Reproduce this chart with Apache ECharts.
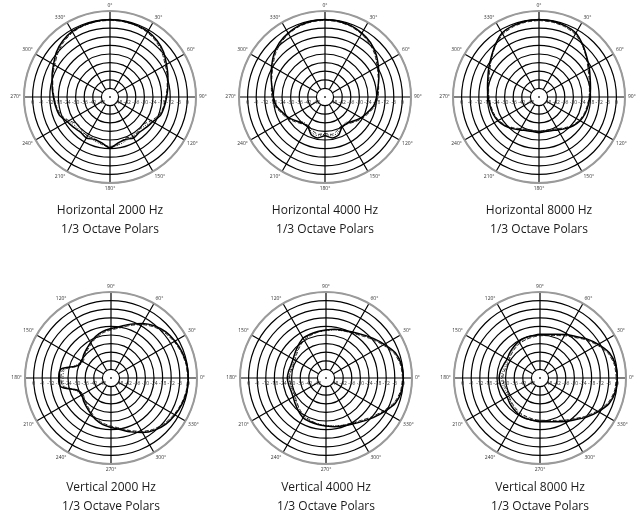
<!DOCTYPE html>
<html>
<head>
<meta charset="utf-8">
<script src="https://cdn.jsdelivr.net/npm/echarts@6/dist/echarts.min.js"></script>
<style>
html,body{margin:0;padding:0;background:#fff;}
#main{width:640px;height:517px;}
</style>
</head>
<body>
<div id="main"></div>
<script>
// ---------- data ----------
const angles = [0,10,20,30,40,50,60,70,80,90,100,110,120,130,140,150,160,170,180,190,200,210,220,230,240,250,260,270,280,290,300,310,320,330,340,350,360];
const dbTicks = [0,-6,-12,-18,-24,-30,-36,-42,-48];
const angleTicks = [0,30,60,90,120,150,180,210,240,270,300,330];

const titles = [
  "Horizontal 2000 Hz\n1/3 Octave Polars",
  "Horizontal 4000 Hz\n1/3 Octave Polars",
  "Horizontal 8000 Hz\n1/3 Octave Polars",
  "Vertical 2000 Hz\n1/3 Octave Polars",
  "Vertical 4000 Hz\n1/3 Octave Polars",
  "Vertical 8000 Hz\n1/3 Octave Polars"
];

const h2000Solid  = [0,-0.3,-0.6,-1.2,-2.8,-5.2,-8.5,-11,-13,-14.5,-15.5,-16.5,-19.5,-21,-22,-21,-22.5,-21.5,-18.5,-21.5,-22.5,-21,-22,-21,-19.5,-16.5,-15.5,-14.5,-13,-11,-8.5,-5.2,-2.8,-1.2,-0.6,-0.3,0];
const h2000Dashed = [-0.5,-0.6,-1,-2,-3.8,-6.5,-9.5,-11.5,-13.5,-15,-16,-17.5,-21,-24,-23,-22,-23.5,-20.5,-19.5,-20.5,-23,-22.5,-23.5,-24.5,-21,-17.5,-16,-15,-13.5,-11.5,-9.5,-6.5,-3.8,-2,-1,-0.6,-0.5];
const h2000Dotted = [-0.2,-0.4,-0.9,-1.6,-3.2,-5.8,-9,-11.2,-13.2,-14.8,-16,-17,-20,-22.5,-23.5,-22.5,-21.5,-20,-19,-20.5,-21.5,-23,-22.5,-22.5,-20.5,-17,-16,-14.8,-13.2,-11.2,-9,-5.8,-3.2,-1.6,-0.9,-0.4,-0.2];

const h4000Solid  = [0,-0.3,-1,-2.5,-4.5,-7.5,-11,-14,-16.5,-18,-19.5,-22.5,-25,-28,-30,-30,-26,-25,-27,-25,-26,-30,-30,-28,-25,-22.5,-19.5,-18,-16.5,-14,-11,-7.5,-4.5,-2.5,-1,-0.3,0];
const h4000Dashed = [-0.4,-0.8,-1.6,-3.2,-5.5,-8.5,-12,-14.5,-16,-17,-18.5,-21.5,-24,-27,-29.5,-31,-29,-27.5,-28.5,-27.5,-29,-31,-29.5,-27,-24,-21.5,-18.5,-17,-16,-14.5,-12,-8.5,-5.5,-3.2,-1.6,-0.8,-0.4];
const h4000Dotted = [-0.2,-0.5,-1.3,-2.9,-5,-8,-11.5,-14.3,-16.3,-17.5,-19,-22,-24.5,-27.5,-31,-30.5,-27.5,-26.5,-28,-26.5,-27.5,-30.5,-31,-27.5,-24.5,-22,-19,-17.5,-16.3,-14.3,-11.5,-8,-5,-2.9,-1.3,-0.5,-0.2];

const h8000Solid  = [0,-0.3,-1,-2.5,-6.5,-10.5,-13.5,-16,-17.5,-18.5,-19.2,-19.8,-20.8,-22.8,-25.2,-27.5,-29,-29.5,-29,-29.5,-29,-27.5,-25.2,-22.8,-20.8,-19.8,-19.2,-18.5,-17.5,-16,-13.5,-10.5,-6.5,-2.5,-1,-0.3,0];
const h8000Dashed = [-0.6,-1,-1.8,-3.5,-7,-11,-14.5,-16.8,-18.3,-19,-19.8,-20.5,-21.5,-23.5,-26,-28.5,-29.8,-30.5,-30,-30.5,-29.8,-28.5,-26,-23.5,-21.5,-20.5,-19.8,-19,-18.3,-16.8,-14.5,-11,-7,-3.5,-1.8,-1,-0.6];
const h8000Dotted = [-0.3,-0.6,-1.4,-3,-6.8,-10.8,-14,-16.5,-18,-19,-19.5,-20.2,-21,-23,-25.6,-28,-29.5,-30,-29.5,-30,-29.5,-28,-25.6,-23,-21,-20.2,-19.5,-19,-18,-16.5,-14,-10.8,-6.8,-3,-1.4,-0.6,-0.3];

const v2000Solid  = [0,-0.3,-1.2,-2.5,-4,-6.5,-10,-14,-17.5,-19.5,-21,-23,-25.5,-27.5,-29,-30.5,-29,-18.5,-17.5,-18.5,-29,-30.5,-29,-27.5,-25.5,-23,-21,-19.5,-17.5,-14,-10,-6.5,-4,-2.5,-1.2,-0.3,0];
const v2000Dashed = [-0.5,-0.8,-1.8,-3.2,-5,-7.5,-11,-15,-18.5,-20.5,-22,-24,-26.5,-28.5,-30,-31.5,-29.5,-20,-19,-20,-29.5,-31.5,-30,-28.5,-26.5,-24,-22,-20.5,-18.5,-15,-11,-7.5,-5,-3.2,-1.8,-0.8,-0.5];
const v2000Dotted = [-0.2,-0.6,-1.5,-2.8,-4.5,-7,-10.5,-14.5,-18,-20,-21.5,-23.5,-26,-28,-29.5,-30,-28,-21,-20.5,-21,-28,-30,-29.5,-28,-26,-23.5,-21.5,-20,-18,-14.5,-10.5,-7,-4.5,-2.8,-1.5,-0.6,-0.2];

const v4000Solid  = [0,-0.5,-2.5,-7,-11,-14.5,-17,-18.5,-19.5,-20.5,-21,-21.5,-22,-24,-26,-27.5,-28,-27.5,-27,-27.5,-28,-27.5,-26,-24,-22,-21.5,-21,-20.5,-19.5,-18.5,-17,-14.5,-11,-7,-2.5,-0.5,0];
const v4000Dashed = [-0.6,-1.2,-3.5,-8,-12,-15.5,-17.8,-19,-19.8,-20.5,-21.5,-22.5,-23.5,-25.5,-27.5,-29,-29.5,-29,-28.5,-29,-29.5,-29,-27.5,-25.5,-23.5,-22.5,-21.5,-20.5,-19.8,-19,-17.8,-15.5,-12,-8,-3.5,-1.2,-0.6];
const v4000Dotted = [-0.3,-0.8,-3,-7.5,-11.5,-15,-17.5,-19,-20,-21,-21.5,-22,-23,-25,-27,-28.5,-29,-28.5,-28,-28.5,-29,-28.5,-27,-25,-23,-22,-21.5,-21,-20,-19,-17.5,-15,-11.5,-7.5,-3,-0.8,-0.3];

const v8000Solid  = [0,-0.5,-2.5,-7,-11.5,-16,-19,-21.5,-23,-23.5,-24,-24,-24.5,-25.5,-26.5,-27.5,-27,-26,-25.5,-26,-27,-27.5,-26.5,-25.5,-24.5,-24,-24,-23.5,-23,-21.5,-19,-16,-11.5,-7,-2.5,-0.5,0];
const v8000Dashed = [-0.8,-1.3,-3.5,-8,-12.5,-17,-20,-22.5,-24,-24.5,-25,-25.5,-26,-27,-28,-29,-29.5,-28.5,-28,-28.5,-29.5,-29,-28,-27,-26,-25.5,-25,-24.5,-24,-22.5,-20,-17,-12.5,-8,-3.5,-1.3,-0.8];
const v8000Dotted = [-0.3,-0.8,-3,-7.5,-12,-16.5,-19.5,-22,-23.5,-24,-24.5,-25,-25.5,-26.5,-27.5,-28.5,-28.5,-27.5,-27,-27.5,-28.5,-28.5,-27.5,-26.5,-25.5,-25,-24.5,-24,-23.5,-22,-19.5,-16.5,-12,-7.5,-3,-0.8,-0.3];

// ---------- layout (positions, not data) ----------
const layout = [
  {cx:110, cy:97,  start:90, cw:true,  ty:201},
  {cx:325, cy:97,  start:90, cw:true,  ty:201},
  {cx:539, cy:97,  start:90, cw:true,  ty:201},
  {cx:111, cy:378, start:0,  cw:false, ty:478},
  {cx:326, cy:378, start:0,  cw:false, ty:478},
  {cx:540, cy:378, start:0,  cw:false, ty:478}
];
const seriesSets = [
  [h2000Solid,h2000Dashed,h2000Dotted],
  [h4000Solid,h4000Dashed,h4000Dotted],
  [h8000Solid,h8000Dashed,h8000Dotted],
  [v2000Solid,v2000Dashed,v2000Dotted],
  [v4000Solid,v4000Dashed,v4000Dotted],
  [v8000Solid,v8000Dashed,v8000Dotted]
];

const R_OUT = 86, R_IN = 8.6;
const FONT = '"Open Sans", "DejaVu Sans", sans-serif';
const lineStyles = [
  {color:'#000', width:1.5, type:'solid'},
  {color:'#111', width:0.9, type:[4,2]},
  {color:'#111', width:0.9, type:[1,1.5]}
];

const option = {
  backgroundColor:'#fff',
  animation:false,
  title:[], polar:[], angleAxis:[], radiusAxis:[], series:[]
};

layout.forEach((L, i) => {
  const c = [L.cx, L.cy];
  // main polar
  const pMain = option.polar.length;
  option.polar.push({center:c, radius:[R_IN, R_OUT]});
  option.angleAxis.push({
    polarIndex:pMain, type:'value', min:0, max:360, interval:30,
    startAngle:L.start, clockwise:L.cw,
    axisLine:{show:false}, axisTick:{show:false},
    splitLine:{show:true, lineStyle:{color:'#000', width:1.2}},
    axisLabel:{show:true, fontSize:5, color:'#333', margin:3, fontFamily:FONT,
      formatter:(v) => (angleTicks.indexOf(v) >= 0 ? v + '°' : '')}
  });
  option.radiusAxis.push({
    polarIndex:pMain, type:'value', min:-48, max:6, interval:6,
    axisLine:{show:false}, axisTick:{show:false}, axisLabel:{show:false},
    splitLine:{show:true, lineStyle:{color:['#000','#000','#000','#000','#000','#000','#000','#000','#000','#999'], width:1.2}}
  });
  // right-hand label polar (also carries gray outer ring)
  const pR = option.polar.length;
  option.polar.push({center:c, radius:[0, R_OUT]});
  option.angleAxis.push({
    polarIndex:pR, type:'value', min:0, max:360, startAngle:0,
    axisLine:{show:true, lineStyle:{color:'#9a9a9a', width:2}},
    axisTick:{show:false}, axisLabel:{show:false}, splitLine:{show:false}
  });
  option.radiusAxis.push({
    polarIndex:pR, type:'value', min:-54, max:6, interval:6,
    axisLine:{show:false}, axisTick:{show:false}, splitLine:{show:false},
    axisLabel:{show:true, fontSize:5, color:'#333', margin:-3, verticalAlign:'top', fontFamily:FONT,
      formatter:(v) => (dbTicks.indexOf(v) >= 0 ? String(v) : '')}
  });
  // left-hand label polar
  const pL = option.polar.length;
  option.polar.push({center:c, radius:[0, R_OUT]});
  option.angleAxis.push({
    polarIndex:pL, type:'value', min:0, max:360, startAngle:180, show:false
  });
  option.radiusAxis.push({
    polarIndex:pL, type:'value', min:-54, max:6, interval:6,
    axisLine:{show:false}, axisTick:{show:false}, splitLine:{show:false},
    axisLabel:{show:true, fontSize:5, color:'#333', margin:3, fontFamily:FONT,
      formatter:(v) => (dbTicks.indexOf(v) >= 0 ? String(v) : '')}
  });
  // center dot
  option.series.push({
    type:'scatter', coordinateSystem:'polar', polarIndex:pR,
    symbolSize:2, itemStyle:{color:'#000'}, data:[[-54, 0]], silent:true
  });
  // curves
  seriesSets[i].forEach((vals, k) => {
    option.series.push({
      type:'line', coordinateSystem:'polar', polarIndex:pMain,
      showSymbol:false, symbol:'none', smooth:0.25, silent:true,
      lineStyle:lineStyles[k], z:5 - k,
      data: angles.map((a, j) => [vals[j], a])
    });
  });
  option.title.push({
    text:titles[i], left:L.cx, top:L.ty, textAlign:'center', padding:0,
    textStyle:{fontSize:12, fontWeight:'normal', color:'#1a1a1a', fontFamily:FONT, lineHeight:19}
  });
});

const chart = echarts.init(document.getElementById('main'), null, {renderer:'canvas'});
chart.setOption(option);
</script>
</body>
</html>
